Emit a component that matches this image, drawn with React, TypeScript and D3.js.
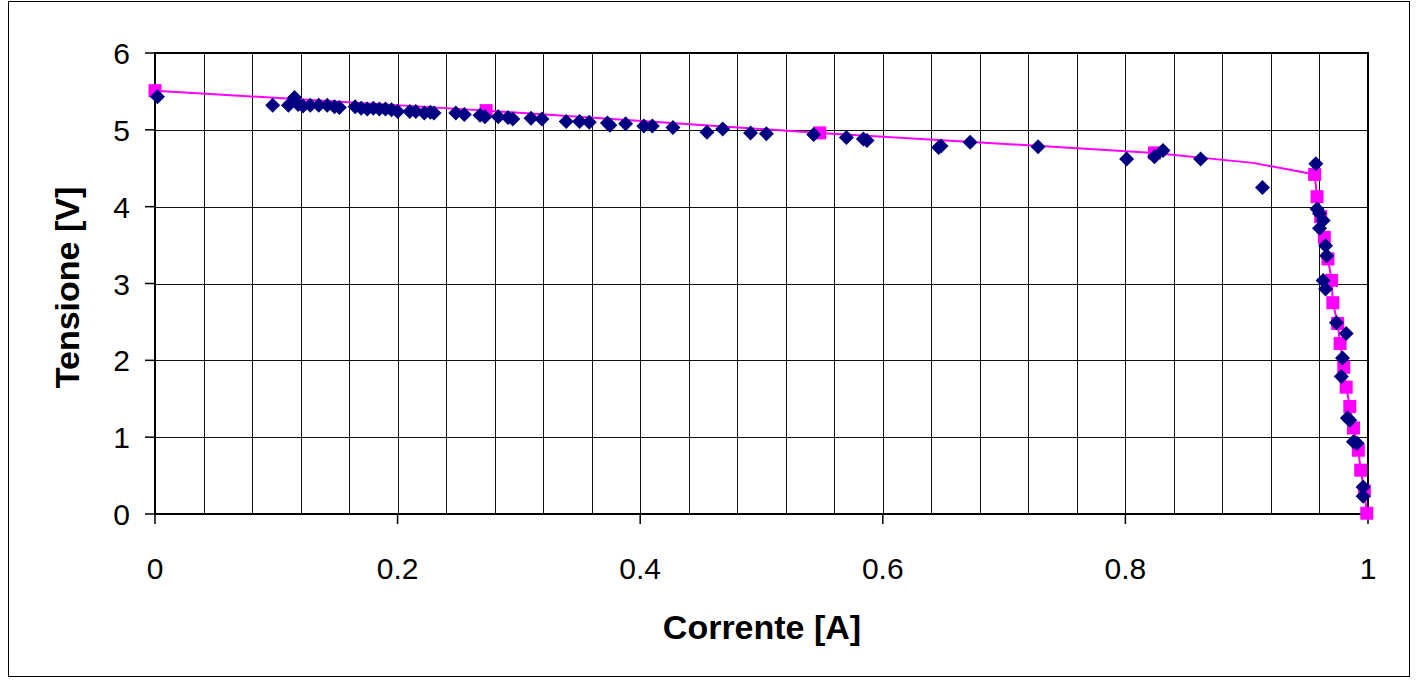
import React from 'react';
import * as d3 from 'd3';

// measured points (blue diamonds)
const measCurrent = [
  0.002, 0.097, 0.110, 0.115, 0.118, 0.122, 0.128, 0.135, 0.142, 0.148, 0.152,
  0.165, 0.170, 0.175, 0.180, 0.185, 0.190, 0.195, 0.200, 0.210, 0.215, 0.222,
  0.227, 0.230, 0.248, 0.255, 0.268, 0.272, 0.283, 0.291, 0.295, 0.310, 0.319,
  0.339, 0.350, 0.358, 0.373, 0.375, 0.388, 0.403, 0.410, 0.427, 0.455, 0.468,
  0.491, 0.504, 0.543, 0.570, 0.584, 0.587, 0.646, 0.648, 0.672, 0.728, 0.801,
  0.824, 0.831, 0.862, 0.913, 0.957, 0.958, 0.960, 0.963, 0.960, 0.965, 0.966,
  0.963, 0.965, 0.974, 0.982, 0.979, 0.978, 0.983, 0.985, 0.988, 0.991, 0.996,
  0.996,
];
const measVoltage = [
  5.43, 5.32, 5.32, 5.42, 5.33, 5.31, 5.32, 5.32, 5.32, 5.30, 5.29,
  5.30, 5.28, 5.27, 5.28, 5.27, 5.27, 5.26, 5.24, 5.24, 5.24, 5.22,
  5.23, 5.22, 5.22, 5.20, 5.19, 5.17, 5.17, 5.16, 5.14, 5.15, 5.14,
  5.11, 5.11, 5.10, 5.09, 5.06, 5.08, 5.05, 5.05, 5.03, 4.97, 5.01,
  4.96, 4.95, 4.94, 4.90, 4.88, 4.86, 4.77, 4.79, 4.84, 4.78, 4.62,
  4.65, 4.73, 4.62, 4.25, 4.56, 3.97, 3.91, 3.82, 3.72, 3.49, 3.36,
  3.04, 2.93, 2.49, 2.35, 2.03, 1.79, 1.25, 1.22, 0.94, 0.92, 0.35,
  0.23,
];

// model curve (magenta squares)
const modelCurrent = [
  0.0, 0.273, 0.548, 0.824, 0.956, 0.958, 0.961, 0.964, 0.967, 0.970, 0.971,
  0.975, 0.977, 0.980, 0.982, 0.985, 0.988, 0.992, 0.994, 0.997, 0.999,
];
const modelVoltage = [
  5.51, 5.25, 4.96, 4.70, 4.42, 4.13, 3.87, 3.60, 3.32, 3.04, 2.75,
  2.48, 2.22, 1.91, 1.65, 1.40, 1.12, 0.83, 0.57, 0.30, 0.01,
];

// model line passes through an extra bend point before the knee
const lineCurrent = [0.0, 0.273, 0.548, 0.824, 0.905, ...modelCurrent.slice(4)];
const lineVoltage = [5.51, 5.25, 4.96, 4.70, 4.57, ...modelVoltage.slice(4)];

const xTicks = [0, 0.2, 0.4, 0.6, 0.8, 1];
const xTickLabels = ['0', '0.2', '0.4', '0.6', '0.8', '1'];
const yTicks = [0, 1, 2, 3, 4, 5, 6];

const W = 1418;
const H = 680;
const left = 155;
const right = 1368;
const top = 53;
const bottom = 514;

export default function App() {
  const x = d3.scaleLinear().domain([0, 1]).range([left, right]);
  const y = d3.scaleLinear().domain([0, 6]).range([bottom, top]);

  const gridX = d3.range(0, 26).map(i => i * 0.04);

  const line = d3
    .line<number>()
    .x((_, i) => x(lineCurrent[i]))
    .y(d => y(d));

  const font = 'Liberation Sans, Arial, sans-serif';
  const crisp = (v: number) => Math.round(v) + 0.5;

  return (
    <svg
      width={W}
      height={H}
      style={{ position: 'absolute', left: 0, top: 0, background: '#fff' }}
    >
      <rect x={8.5} y={1.5} width={1401} height={675} fill="#fff" stroke="#000" strokeWidth={1} />

      {gridX.map((g, i) => (
        <line key={'gx' + i} x1={crisp(x(g))} x2={crisp(x(g))} y1={top} y2={bottom} stroke="#111" strokeWidth={1} />
      ))}
      {yTicks.map(t => (
        <line key={'gy' + t} x1={left} x2={right} y1={crisp(y(t))} y2={crisp(y(t))} stroke="#111" strokeWidth={1} />
      ))}
      <rect x={left} y={top} width={right - left} height={bottom - top} fill="none" stroke="#000" strokeWidth={2} />

      {yTicks.map(t => (
        <g key={'ty' + t}>
          <line x1={left - 10} x2={left} y1={y(t)} y2={y(t)} stroke="#000" strokeWidth={1.5} />
          <text x={130} y={y(t) + 11} textAnchor="end" fontFamily={font} fontSize={30} fill="#000">
            {t}
          </text>
        </g>
      ))}
      {xTicks.map((t, i) => (
        <g key={'tx' + t}>
          <line x1={x(t)} x2={x(t)} y1={bottom} y2={bottom + 10} stroke="#000" strokeWidth={1.5} />
          <text x={x(t)} y={579} textAnchor="middle" fontFamily={font} fontSize={30} fill="#000">
            {xTickLabels[i]}
          </text>
        </g>
      ))}

      <path d={line(lineVoltage) || ''} fill="none" stroke="#ff00ff" strokeWidth={2} />
      {modelCurrent.map((c, i) => (
        <rect key={'m' + i} x={x(c) - 6.5} y={y(modelVoltage[i]) - 6.5} width={13} height={13} fill="#ff00ff" />
      ))}
      {measCurrent.map((c, i) => {
        const cx = x(c);
        const cy = y(measVoltage[i]);
        const r = 7.5;
        return (
          <path
            key={'d' + i}
            d={`M${cx},${cy - r}L${cx + r},${cy}L${cx},${cy + r}L${cx - r},${cy}Z`}
            fill="#000080"
          />
        );
      })}

      <text
        transform={`translate(79,${(top + bottom) / 2 + 4}) rotate(-90)`}
        textAnchor="middle"
        fontFamily={font}
        fontWeight="bold"
        fontSize={34}
        fill="#000"
      >
        Tensione [V]
      </text>
      <text x={762} y={639} textAnchor="middle" fontFamily={font} fontWeight="bold" fontSize={34} fill="#000">
        Corrente [A]
      </text>
    </svg>
  );
}
